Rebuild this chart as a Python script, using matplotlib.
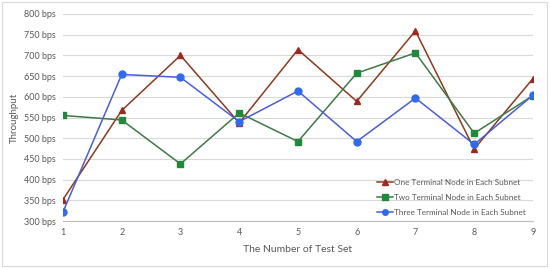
import matplotlib
matplotlib.use("Agg")
import matplotlib.pyplot as plt
from matplotlib.patches import Rectangle

test_sets = [1, 2, 3, 4, 5, 6, 7, 8, 9]
one_node = [352, 567, 700, 537, 714, 589, 759, 474, 644]
two_node = [555, 544, 438, 561, 492, 657, 706, 512, 603]
three_node = [322, 654, 647, 540, 614, 492, 597, 485, 604]
yticks = [300, 350, 400, 450, 500, 550, 600, 650, 700, 750, 800]
labels = ["One Terminal Node in Each Subnet",
          "Two Terminal Node in Each Subnet",
          "Three Terminal Node in Each Subnet"]

plt.rcParams['font.family'] = ['Lato', 'DejaVu Sans']
fig = plt.figure(figsize=(5.5, 2.68), dpi=100)
fig.patch.set_facecolor('white')
fig.add_artist(Rectangle((0.004, 0.007), 0.99, 0.985, transform=fig.transFigure,
                         fill=False, edgecolor='#d9d9d9', linewidth=0.8))
ax = fig.add_axes([0.1145, 0.175, 0.8545, 0.773])

ax.plot(test_sets, one_node, color='#8B3A1E', linewidth=1.1, marker='^',
        markersize=5, markerfacecolor='#A0281E', markeredgecolor='#A0281E', label=labels[0], zorder=3)
ax.plot(test_sets, two_node, color='#3F7A45', linewidth=1.1, marker='s',
        markersize=5, markerfacecolor='#1F8A3A', markeredgecolor='#1F8A3A', label=labels[1], zorder=3)
ax.plot(test_sets, three_node, color='#4A5ED6', linewidth=1.1, marker='o',
        markersize=5, markerfacecolor='#2F6BF0', markeredgecolor='#2F6BF0', label=labels[2], zorder=3)

ax.set_xlim(1, 9)
ax.set_ylim(300, 800)
ax.set_yticks(yticks)
ax.set_yticklabels([f"{v} bps" for v in yticks])
ax.set_xticks(test_sets)
ax.grid(axis='y', color='#d9d9d9', linewidth=0.8)
ax.set_axisbelow(True)
for s in ['left', 'right', 'top']:
    ax.spines[s].set_visible(False)
ax.spines['bottom'].set_color('#bfbfbf')
ax.tick_params(axis='both', length=0, labelsize=6.5, labelcolor='#595959', pad=5)
ax.set_xlabel("The Number of Test Set", fontsize=7.5, color='#595959', labelpad=6)
ax.set_ylabel("Throughput", fontsize=7, color='#595959', labelpad=4)

leg = ax.legend(loc='lower right', bbox_to_anchor=(1.0, -0.01), frameon=False,
                fontsize=5.9, handlelength=2.0, handletextpad=0.1, labelspacing=0.95,
                labelcolor='#595959', markerscale=0.8)

fig.savefig("out.png", dpi=100)
